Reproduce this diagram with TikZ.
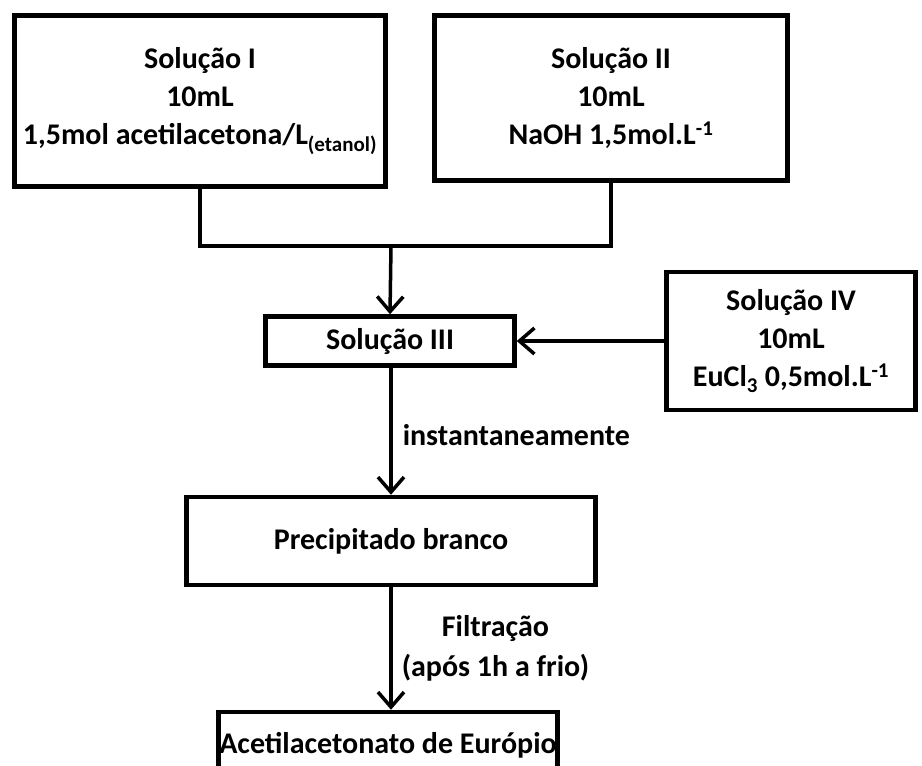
\documentclass[tikz,border=0pt]{standalone}
\usepackage{fontspec}
\setmainfont{Carlito}
\usetikzlibrary{arrows.meta,positioning}
\tikzset{
  box/.style={draw, line width=4.5pt, align=center, inner sep=0pt, fill=white, font=\bfseries\fontsize{30}{38}\selectfont},
  lnk/.style={line width=3.5pt},
  arr/.style={lnk, -{Straight Barb[length=15pt,width=26pt]}},
  note/.style={font=\bfseries\fontsize{30}{40}\selectfont, align=center, inner sep=2pt}}

\begin{document}
\begin{tikzpicture}[x=1pt, y=-1pt]
  \useasboundingbox (0,0) rectangle (922,766);
  \clip (0,0) rectangle (922,766);
  \node[box, minimum width=371pt, minimum height=171pt] (solI) at (200,101) {Solução I\\10mL\\1,5mol acetilacetona/L\textsubscript{(etanol)}};
  \node[box, minimum width=353pt, minimum height=165pt] (solII) at (611,98) {Solução II\\10mL\\NaOH 1,5mol.L\textsuperscript{-1}};
  \node[box, minimum width=249pt, minimum height=49pt] (solIII) at (390,341) {Solução III};
  \node[box, minimum width=249pt, minimum height=138pt] (solIV) at (791,341) {Solução IV\\10mL\\EuCl\textsubscript{3} 0,5mol.L\textsuperscript{-1}};
  \node[box, minimum width=409pt, minimum height=88pt] (precip) at (391,541) {Precipitado branco};
  \node[box, minimum width=339pt, minimum height=66pt] (final) at (388,745) {Acetilacetonato de Európio};
  \coordinate (mix) at (391,246);
  \draw[lnk] (solI.south) |- (mix) -| (solII.south);
  \draw[arr] (mix) -- (solIII.north);
  \draw[arr] (solIV.west) -- (solIII.east);
  \draw[arr] (solIII.south -| mix) -- node[note, anchor=west, xshift=8pt, pos=0.53] (inst) {instantaneamente} (precip.north -| mix);
  \draw[arr] (precip.south -| mix) -- node[note, anchor=west, xshift=7pt] (filt) {Filtração\\(após 1h a frio)} (final.north -| mix);
\end{tikzpicture}
\end{document}
